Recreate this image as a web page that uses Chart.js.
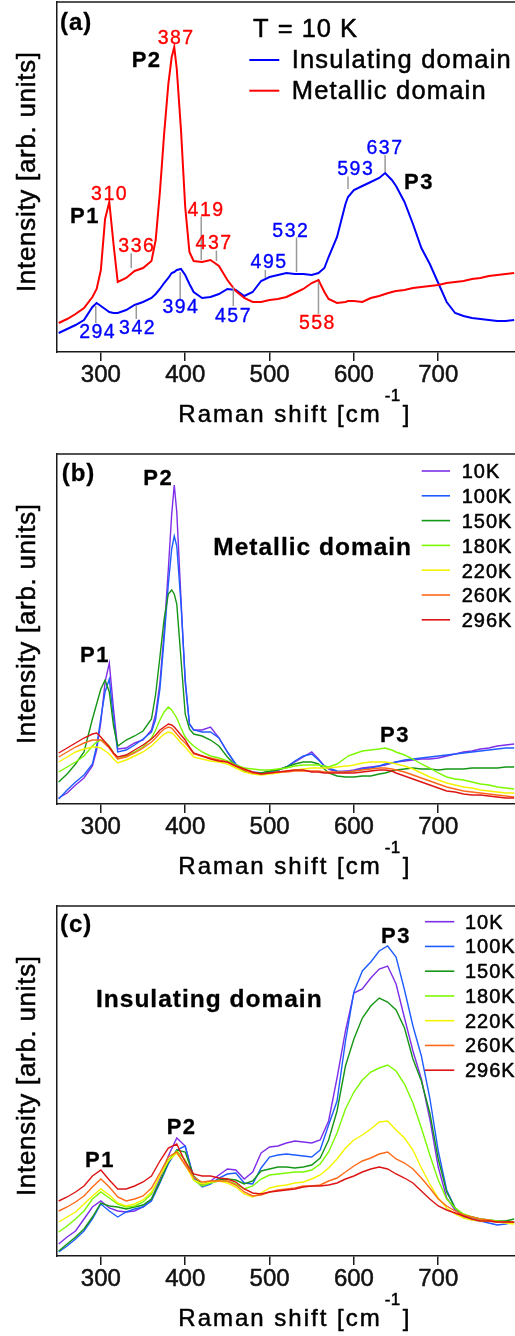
<!DOCTYPE html>
<html>
<head>
<meta charset="utf-8">
<script src="https://cdn.jsdelivr.net/npm/chart.js@4.4.0/dist/chart.umd.min.js"></script>
<style>
  html, body { margin: 0; padding: 0; background: #fff; }
  body { width: 515px; height: 1336px; position: relative; overflow: hidden; }
  .panel { position: absolute; left: 0; width: 515px; }
  canvas { display: block; }
</style>
</head>
<body>
<div class="panel" style="top:0;height:452px"><canvas id="chartA" width="515" height="452"></canvas></div>
<div class="panel" style="top:452px;height:452px"><canvas id="chartB" width="515" height="452"></canvas></div>
<div class="panel" style="top:904px;height:432px"><canvas id="chartC" width="515" height="432"></canvas></div>
<script>
// ---- Raman shift grids (cm^-1) ----
const shiftAB = [250,260,270,280,290,295,300,305,310,315,320,330,340,350,360,365,370,375,380,384,387,390,395,400,405,410,420,430,440,450,460,470,480,490,500,510,520,530,540,550,558,565,570,580,590,593,600,610,620,630,637,645,650,660,670,680,690,700,710,720,730,740,750,760,770,780,790];
const shiftC = [250,260,270,280,290,300,310,320,330,340,350,360,370,380,390,400,410,420,430,440,450,460,470,480,490,500,510,520,530,540,550,560,570,580,590,600,610,620,630,640,650,660,670,680,690,700,710,720,730,740,750,760,770,780,790];
const xTicks = [300, 400, 500, 600, 700];

// ---- (a) T = 10 K spectra ----
const aInsulating = [19,23,27,32,45,49,46,43,40,39,39,42,47,50,54,58,63,69,74,79,80,82,83,77,68,60,54,55,58,63,62,56,60,71,75,77,79,78,78,77,79,84,95,115,148,155,162,166,170,174,179,172,166,150,128,104,88,69,50,39,36,34,33,32,31,31,32];
const aMetallic   = [29,33,38,44,55,63,82,133,150,108,70,74,81,84,91,112,160,218,268,295,305,283,222,145,100,91,90,92,86,72,61,54,50,50,52,53,55,59,63,69,72,60,53,49,50,51,51,50,54,56,58,60,61,62,64,65,66,67,69,70,71,73,74,76,77,78,79];
const peaksInsulating = [294, 342, 394, 457, 495, 532, 593, 637];
const peaksMetallic   = [310, 387, 336, 419, 437, 558];

// ---- (b) metallic domain, temperature series ----
const tempLabels = ['10K','100K','150K','180K','220K','260K','296K'];
const bT10  = [6,11,19,26,38,54,82,122,141,95,55,56,61,64,74,90,121,172,235,290,319,292,205,121,80,74,74,77,66,52,39,33,31,31,32,34,37,42,47,52,45,38,35,32,33,33,34,36,37,38,39,41,42,43,44,45,45,46,48,50,52,53,55,56,58,59,60];
const bT100 = [5,14,22,29,40,58,86,112,125,85,52,54,59,65,72,85,115,165,220,255,268,258,200,125,80,74,72,72,66,52,40,34,32,31,32,34,37,43,48,50,44,38,36,33,32,32,33,35,36,38,40,41,42,44,45,46,47,48,49,50,51,52,53,54,55,56,56];
const bT150 = [22,30,40,52,85,100,115,124,112,78,58,64,68,73,85,110,147,185,210,214,210,200,145,90,75,70,68,64,58,47,38,33,31,31,33,34,37,40,42,42,40,35,31,28,27,27,27,28,28,30,31,33,34,35,36,35,35,34,35,35,35,36,36,36,36,37,37];
const bT180 = [32,37,42,48,58,62,64,62,58,51,45,48,52,57,66,74,84,92,97,94,90,86,76,67,62,58,52,48,46,43,39,36,35,34,34,35,36,38,39,39,39,38,37,40,46,48,50,53,54,55,56,54,52,49,45,40,36,31,27,25,24,22,20,19,17,16,15];
const bT220 = [42,47,52,55,57,57,56,53,50,45,41,44,48,52,58,62,66,70,72,71,69,66,61,57,52,47,45,43,42,40,36,32,30,29,30,31,33,34,35,36,36,36,36,37,38,38,39,41,42,42,42,41,40,38,35,31,27,24,21,19,17,16,14,13,12,11,11];
const bT260 = [47,52,57,61,64,64,64,60,56,50,45,47,51,56,62,66,71,75,77,76,73,70,65,61,56,50,48,46,44,42,38,34,31,30,31,32,32,33,33,33,33,32,32,32,32,32,33,34,35,36,36,35,34,32,29,26,23,20,17,15,13,12,11,10,9,8,7];
const bT296 = [51,56,61,66,70,71,67,62,57,51,47,49,54,59,65,69,74,77,80,79,77,74,69,64,57,51,48,45,43,42,38,35,32,30,31,32,33,34,34,32,32,31,31,31,31,31,31,32,33,34,34,33,31,28,25,22,19,16,13,12,10,9,9,8,7,6,6];

// ---- (c) insulating domain, temperature series ----
const cT10  = [12,19,25,37,49,55,48,45,44,45,49,57,77,100,118,110,78,71,75,81,87,86,77,84,103,109,110,113,115,114,113,116,135,178,225,263,267,278,287,290,272,238,205,177,137,89,58,46,39,36,35,35,34,34,34];
const cT100 = [4,10,17,25,37,52,45,39,44,47,49,55,73,92,106,110,78,69,72,78,82,83,73,72,88,99,101,102,101,100,99,106,131,155,215,264,285,294,305,310,299,266,230,200,158,105,66,48,40,37,35,33,31,32,34];
const cT150 = [5,12,19,27,39,53,50,49,47,49,51,57,74,94,106,104,80,72,74,76,77,76,72,75,85,87,89,89,88,89,91,98,116,145,190,217,238,250,258,254,246,228,197,175,143,97,64,48,41,39,37,36,35,35,37];
const cT180 = [24,30,37,45,57,64,58,52,49,50,54,62,80,96,105,96,76,70,73,75,75,72,67,70,77,81,82,83,84,84,86,92,104,123,147,164,176,184,188,191,185,172,153,128,101,76,57,48,42,39,37,36,35,34,34];
const cT220 = [34,39,44,52,60,67,61,53,50,52,56,64,80,95,103,91,76,72,74,75,73,69,62,59,63,68,70,71,73,74,77,81,88,97,108,116,121,127,134,135,126,118,106,88,72,58,48,42,38,36,35,35,34,33,32];
const cT260 = [45,49,54,60,69,77,69,59,55,57,60,68,83,99,104,91,79,74,75,75,75,71,64,60,61,64,66,67,68,70,70,71,75,78,84,90,95,98,102,104,97,93,87,78,68,57,50,45,41,39,37,36,34,34,34];
const cT296 = [55,59,64,70,80,86,76,67,67,70,74,80,95,108,112,94,82,80,80,78,77,74,67,63,62,64,65,66,67,69,70,70,71,73,77,80,84,87,89,87,82,78,73,65,57,50,46,43,40,37,35,35,34,34,34];

const tempColors = ['#7d2ee8', '#1f5cff', '#169616', '#7cf800', '#f4f400', '#ff6a1a', '#dc1414'];
const INK = '#1a1a1a';
const SANS = '"Liberation Sans", Arial, Helvetica, sans-serif';

// placement of the peak-position labels in (a): text centre, text baseline and leader line (data units)
const insulatingPlacement = [
  { textAt: 295.3, textV: 13.7, line: [46, 29] },
  { textAt: 342.7, textV: 18,   line: [47, 33] },
  { textAt: 394,   textV: 38.7, line: [80, 53] },
  { textAt: 456.4, textV: 30.3, line: [65, 46] },
  { textAt: 498.6, textV: 83.7, line: [82, 74] },
  { textAt: 524.3, textV: 115.3, line: [114.5, 80] },
  { textAt: 601.3, textV: 177,  line: [175.5, 163] },
  { textAt: 636,   textV: 198,  line: [197, 180] }
];
const metallicPlacement = [
  { textAt: 309.5, textV: 152 },
  { textAt: 388.4, textV: 307.7 },
  { textAt: 341.8, textV: 99.7, line: [98.7, 83.7] },
  { textAt: 423.9, textV: 136,  line: [135.5, 92] },
  { textAt: 433.4, textV: 102.7, line: [101.5, 91] },
  { textAt: 555.9, textV: 22.7, line: [70, 38] }
];

// text drawn glyph by glyph so the tracking can be opened up a little;
// a thin outline in the fill colour gives the heavier print weight
function drawText(ctx, s, x, y, size, opt = {}) {
  const ls = opt.ls ?? 1;
  const color = opt.color || '#000';
  const weight = opt.weight ?? (opt.bold ? 0.3 : 0.5);
  ctx.font = (opt.bold ? 'bold ' : '') + size + 'px ' + SANS;
  ctx.fillStyle = color;
  ctx.strokeStyle = color;
  ctx.lineWidth = weight;
  ctx.lineJoin = 'round';
  ctx.textBaseline = 'alphabetic';
  ctx.textAlign = 'left';
  const chars = [...s];
  const widths = chars.map(ch => ctx.measureText(ch).width);
  const total = widths.reduce((a, b) => a + b, 0) + ls * (chars.length - 1);
  let cx = x;
  if (opt.align === 'center') cx = x - total / 2;
  else if (opt.align === 'right') cx = x - total;
  chars.forEach((ch, i) => {
    ctx.fillText(ch, cx, y);
    if (weight > 0) ctx.strokeText(ch, cx, y);
    cx += widths[i] + ls;
  });
  return total + ls;
}

function hLine(ctx, x0, x1, y, color, width) {
  ctx.strokeStyle = color; ctx.lineWidth = width;
  ctx.beginPath(); ctx.moveTo(x0, y); ctx.lineTo(x1, y); ctx.stroke();
}

// frame top edge and the two axis titles, common to every panel
const frame = {
  id: 'frame',
  afterDraw(chart) {
    const { ctx, chartArea: a } = chart;
    ctx.save();
    hLine(ctx, a.left - 0.75, a.right, a.top, INK, 1.5);
    // x title with superscript
    const yb = a.bottom + 69.5;
    let x = 178.3;
    x += drawText(ctx, 'Raman shift [cm', x, yb, 24, { ls: 2 });
    x += 3;
    x += drawText(ctx, '-1', x, yb - 20.5, 17, { ls: 0.5 });
    drawText(ctx, ']', x + 2, yb, 24, { ls: 0 });
    // y title
    ctx.translate(35, a.top + 170);
    ctx.rotate(-Math.PI / 2);
    drawText(ctx, 'Intensity [arb. units]', 0, 0, 26, { ls: 0.7, align: 'center' });
    ctx.restore();
  }
};

function tempLegend(ctx, x0, x1, xt, y0, step, base) {
  tempLabels.forEach((t, i) => {
    const yc = y0 + i * step;
    hLine(ctx, x0, x1, yc, tempColors[i], 1.6);
    drawText(ctx, t, xt, yc + base, 20, { ls: 1 });
  });
}

function peakLabels(chart, peaks, place, color) {
  const { ctx, scales: { x, y } } = chart;
  peaks.forEach((p, i) => {
    const pl = place[i];
    if (pl.line) {
      const px = x.getPixelForValue(p);
      ctx.strokeStyle = '#9a9a9a'; ctx.lineWidth = 1.5;
      ctx.beginPath();
      ctx.moveTo(px, y.getPixelForValue(pl.line[0]));
      ctx.lineTo(px, y.getPixelForValue(pl.line[1]));
      ctx.stroke();
    }
    drawText(ctx, String(p), x.getPixelForValue(pl.textAt), y.getPixelForValue(pl.textV), 19.5, { color, align: 'center', ls: 1.5, weight: 0.35 });
  });
}

function decorA(chart) {
  const ctx = chart.ctx;
  peakLabels(chart, peaksInsulating, insulatingPlacement, '#0000ff');
  peakLabels(chart, peaksMetallic, metallicPlacement, '#ff0000');
  drawText(ctx, '(a)', 60, 30, 24, { bold: true });
  drawText(ctx, 'P2', 131.7, 66.7, 22, { bold: true, ls: 1.5 });
  drawText(ctx, 'P1', 70, 222.7, 22, { bold: true, ls: 1.5 });
  drawText(ctx, 'P3', 404, 189.3, 22, { bold: true, ls: 1.5 });
  drawText(ctx, 'T = 10 K', 253, 37, 25.5, { ls: 1 });
  hLine(ctx, 249.3, 279.3, 60, '#0000ff', 2);
  drawText(ctx, 'Insulating domain', 291.7, 68.3, 25.5, { ls: 1.2 });
  hLine(ctx, 249.3, 279.3, 90.7, '#ff0000', 2);
  drawText(ctx, 'Metallic domain', 291.7, 99.3, 25.5, { ls: 1.2 });
}

function decorB(chart) {
  const ctx = chart.ctx;
  drawText(ctx, '(b)', 61.7, 29, 24, { bold: true });
  drawText(ctx, 'P2', 143.3, 33, 22, { bold: true, ls: 1.5 });
  drawText(ctx, 'P1', 80, 210.3, 22, { bold: true, ls: 1.5 });
  drawText(ctx, 'P3', 380, 289.7, 22, { bold: true, ls: 1.5 });
  drawText(ctx, 'Metallic domain', 213.3, 103, 24.5, { bold: true, ls: 1 });
  tempLegend(ctx, 421.7, 450, 461.7, 19, 24.8, 7.3);
}

function decorC(chart) {
  const ctx = chart.ctx;
  drawText(ctx, '(c)', 60, 28, 24, { bold: true });
  drawText(ctx, 'Insulating domain', 96, 102.7, 24.5, { bold: true, ls: 1 });
  drawText(ctx, 'P3', 381, 39.3, 22, { bold: true, ls: 1.5 });
  drawText(ctx, 'P2', 166.7, 230, 22, { bold: true, ls: 1.5 });
  drawText(ctx, 'P1', 85, 262.7, 22, { bold: true, ls: 1.5 });
  tempLegend(ctx, 425, 454.3, 465, 17.7, 24.75, 7);
}

function series(xs, ys, color, width, order) {
  return {
    data: xs.map((x, i) => ({ x, y: ys[i] })),
    borderColor: color, borderWidth: width, pointRadius: 0,
    fill: false, tension: 0, order
  };
}

function makeChart(id, datasets, axisHeight, decor) {
  return new Chart(document.getElementById(id), {
    type: 'line',
    data: { datasets },
    options: {
      responsive: false, animation: false, events: [],
      layout: { padding: { top: 2, right: 0, left: 0, bottom: 0 } },
      plugins: { legend: { display: false }, tooltip: { enabled: false } },
      scales: {
        x: {
          type: 'linear', min: 248, max: 791,
          afterBuildTicks(s) { s.ticks = xTicks.map(v => ({ value: v })); },
          afterFit(s) { s.height = axisHeight; },
          ticks: {
            font: { family: SANS, size: 24 }, color: '#111', padding: 0,
            maxRotation: 0, autoSkip: false, textStrokeColor: '#111', textStrokeWidth: 0.5
          },
          grid: { drawOnChartArea: false, drawTicks: true, tickLength: 9, color: INK, lineWidth: 1.5 },
          border: { display: true, color: INK, width: 1.5 }
        },
        y: {
          type: 'linear', min: 0, max: 350,
          afterFit(s) { s.width = 57; },
          ticks: { display: false },
          grid: { display: false, drawTicks: false },
          border: { display: true, color: INK, width: 1.5 }
        }
      }
    },
    plugins: [frame, { id: 'decor', afterDraw(chart) { chart.ctx.save(); decor(chart); chart.ctx.restore(); } }]
  });
}

const tempSetsB = [bT10, bT100, bT150, bT180, bT220, bT260, bT296];
const tempSetsC = [cT10, cT100, cT150, cT180, cT220, cT260, cT296];

makeChart('chartA', [
  series(shiftAB, aInsulating, '#0000ff', 2, 1),
  series(shiftAB, aMetallic, '#ff0000', 2, 0)
], 100, decorA);

makeChart('chartB', tempSetsB.map((d, i) => series(shiftAB, d, tempColors[i], 1.4, 6 - i)), 100, decorB);

makeChart('chartC', tempSetsC.map((d, i) => series(shiftC, d, tempColors[i], 1.4, 6 - i)), 80, decorC);
</script>
</body>
</html>
